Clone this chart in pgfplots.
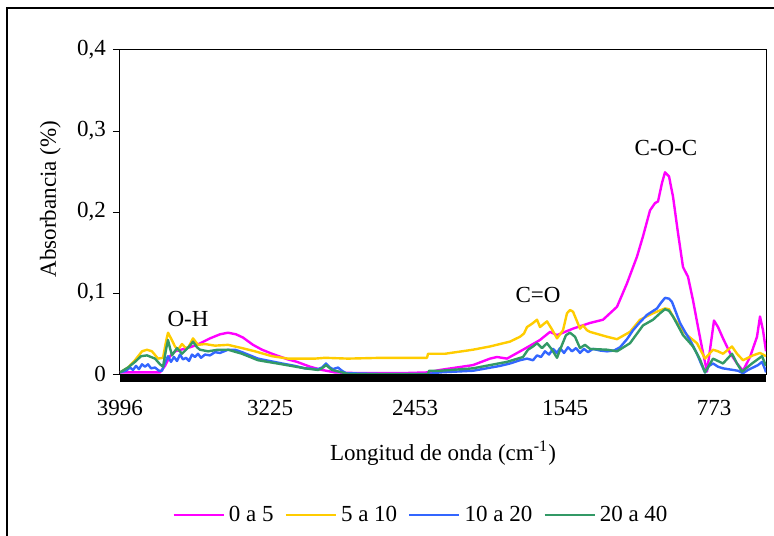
\documentclass[border=0pt]{standalone}
\usepackage{pgfplots}
\pgfplotsset{compat=1.18}
\usepackage{fontspec}
\setmainfont{Liberation Serif}
\definecolor{cmag}{RGB}{255,0,255}
\definecolor{cyel}{RGB}{255,204,0}
\definecolor{cblu}{RGB}{51,102,255}
\definecolor{cgrn}{RGB}{51,153,102}
\begin{document}
\begin{tikzpicture}[font=\fontsize{11.5}{14}\selectfont]
\useasboundingbox (-60pt,-80.5pt) rectangle (327pt,187pt);
\draw[line width=0.6pt] (-56.5pt,-90pt) -- (-56.5pt,183pt) -- (340pt,183pt);
\begin{axis}[name=main,
  at={(0pt,0pt)}, anchor=south west,
  width=323pt, height=162pt, scale only axis,
  xmin=120, xmax=766, ymin=0, ymax=0.4,
  xtick={120,270,415,565,714},
  xticklabels={3996,3225,2453,1545,773},
  xtick style={draw=none},
  xticklabel style={yshift=-6pt},
  ytick={0,0.1,0.2,0.3,0.4},
  yticklabels={0,{0,1},{0,2},{0,3},{0,4}},
  ytick pos=left, tick align=outside, major tick length=3.5pt,
  tick style={black, line width=0.5pt},
  axis line style={line width=0.5pt},
  /pgf/number format/assume math mode=true,
  xlabel={Longitud de onda (cm\textsuperscript{-1})},
  xlabel style={at={(axis description cs:0.5,0)}, anchor=center, yshift=-39.5pt},
  ylabel={Absorbancia (\%)},
  ylabel style={at={(axis description cs:-0.108,0.54)}, anchor=center},
  legend columns=4,
  legend style={draw=none, fill=none, at={(axis description cs:0.4675,0)}, anchor=center, yshift=-70.5pt,
    /tikz/every even column/.append style={column sep=3.5pt}, font=\fontsize{11.5}{14}\selectfont},
  legend image code/.code={\draw[#1] (0pt,0pt) -- (25pt,0pt);},
  every axis plot/.append style={line width=1.2pt, line join=round, mark=none},
]
\addplot[cmag] coordinates {(120,0.002)(140,0.002)(160,0.002)(165,0.010)(170,0.022)(175,0.028)(190,0.033)(197,0.036)(210,0.044)(220,0.049)(228,0.051)(236,0.049)(243,0.045)(253,0.036)(262,0.030)(272,0.025)(288,0.018)(297,0.015)(310,0.009)(322,0.005)(335,0.002)(360,0.001)(400,0.001)(428,0.002)(440,0.005)(473,0.011)(490,0.019)(497,0.021)(507,0.019)(523,0.030)(540,0.042)(550,0.052)(557,0.048)(573,0.056)(590,0.063)(603,0.067)(617,0.083)(627,0.112)(637,0.145)(643,0.170)(650,0.202)(655,0.211)(658,0.213)(662,0.236)(665,0.249)(669,0.244)(673,0.219)(678,0.174)(683,0.132)(688,0.120)(693,0.091)(698,0.058)(703,0.026)(707,0.003)(710,0.030)(714,0.066)(718,0.058)(723,0.044)(730,0.026)(737,0.013)(743,0.004)(750,0.021)(757,0.046)(760,0.071)(763,0.054)(766,0.028)};
\addlegendentry{0 a 5}
\addplot[cyel] coordinates {(120,0.002)(128,0.008)(135,0.017)(142,0.028)(147,0.030)(152,0.028)(158,0.019)(163,0.020)(166,0.040)(168,0.051)(171,0.044)(175,0.034)(178,0.030)(182,0.037)(185,0.033)(188,0.032)(193,0.044)(198,0.036)(205,0.037)(215,0.035)(228,0.036)(242,0.032)(255,0.028)(272,0.022)(288,0.019)(315,0.019)(325,0.020)(348,0.019)(382,0.020)(427,0.020)(428,0.025)(445,0.025)(473,0.030)(490,0.034)(510,0.040)(520,0.046)(524,0.050)(527,0.058)(532,0.062)(537,0.067)(540,0.058)(544,0.062)(547,0.065)(552,0.055)(557,0.044)(563,0.054)(567,0.075)(570,0.079)(573,0.077)(575,0.071)(580,0.056)(583,0.060)(587,0.054)(590,0.052)(607,0.046)(617,0.043)(630,0.052)(640,0.067)(653,0.075)(665,0.081)(669,0.080)(673,0.071)(680,0.058)(687,0.048)(697,0.038)(705,0.019)(713,0.030)(718,0.028)(723,0.025)(732,0.034)(737,0.025)(743,0.017)(753,0.023)(760,0.026)(766,0.022)};
\addlegendentry{5 a 10}
\addplot[cblu] coordinates {(120,0.002)(126,0.004)(130,0.008)(133,0.005)(136,0.010)(139,0.006)(142,0.012)(145,0.009)(148,0.012)(151,0.007)(155,0.008)(159,0.004)(162,0.004)(165,0.014)(168,0.022)(171,0.015)(174,0.021)(177,0.016)(180,0.024)(183,0.018)(186,0.020)(189,0.016)(192,0.024)(195,0.021)(198,0.025)(201,0.020)(205,0.024)(210,0.023)(215,0.027)(220,0.026)(228,0.030)(235,0.030)(242,0.027)(250,0.023)(258,0.019)(270,0.016)(282,0.013)(295,0.010)(305,0.007)(318,0.006)(322,0.008)(326,0.013)(330,0.008)(333,0.006)(338,0.008)(342,0.004)(346,0.001)(380,0.000)(428,0.000)(440,0.002)(473,0.004)(500,0.010)(510,0.013)(520,0.017)(527,0.019)(533,0.017)(537,0.023)(541,0.021)(545,0.028)(549,0.024)(553,0.031)(557,0.026)(560,0.032)(564,0.026)(568,0.033)(572,0.028)(576,0.032)(580,0.026)(584,0.031)(588,0.027)(593,0.031)(600,0.029)(607,0.028)(614,0.029)(620,0.033)(627,0.043)(633,0.054)(640,0.064)(647,0.073)(652,0.077)(657,0.081)(661,0.088)(665,0.094)(669,0.093)(672,0.089)(676,0.076)(680,0.063)(685,0.052)(690,0.042)(697,0.025)(701,0.013)(705,0.002)(709,0.010)(713,0.013)(718,0.009)(723,0.007)(728,0.006)(733,0.005)(738,0.004)(743,0.001)(748,0.005)(753,0.008)(758,0.011)(762,0.015)(765,0.006)(766,0.002)};
\addlegendentry{10 a 20}
\addplot[cgrn] coordinates {(120,0.002)(128,0.008)(135,0.015)(141,0.022)(147,0.023)(155,0.019)(160,0.012)(163,0.009)(166,0.030)(168,0.042)(170,0.032)(172,0.023)(177,0.032)(182,0.025)(186,0.030)(190,0.035)(193,0.040)(197,0.033)(200,0.030)(208,0.028)(218,0.030)(228,0.030)(242,0.025)(258,0.017)(282,0.012)(305,0.007)(318,0.005)(322,0.007)(326,0.011)(332,0.005)(342,0.002)(348,0.000)(428,0.000)(429,0.004)(440,0.004)(473,0.007)(507,0.015)(523,0.021)(528,0.030)(533,0.034)(537,0.038)(542,0.032)(547,0.038)(552,0.030)(557,0.020)(562,0.036)(566,0.048)(570,0.051)(575,0.046)(580,0.032)(585,0.036)(590,0.031)(607,0.030)(617,0.028)(630,0.038)(643,0.060)(653,0.067)(660,0.075)(665,0.080)(669,0.078)(673,0.071)(683,0.048)(693,0.034)(700,0.018)(705,0.002)(713,0.019)(723,0.013)(732,0.025)(737,0.013)(742,0.003)(752,0.013)(762,0.022)(766,0.010)};
\addlegendentry{20 a 40}
\node at (axis cs:188,0.068) {O-H};
\node at (axis cs:538,0.0975) {C=O};
\node at (axis cs:666,0.279) {C-O-C};
\end{axis}
\fill[black] (main.south west) rectangle ([yshift=-4pt]main.south east);
\end{tikzpicture}
\end{document}
